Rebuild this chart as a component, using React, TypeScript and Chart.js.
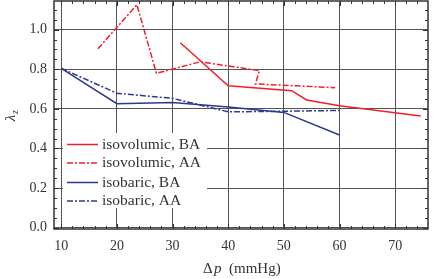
import React, { useEffect, useRef } from "react";
import { Chart, registerables } from "chart.js";

Chart.register(...registerables);

// ---- data ----
const isoVolBA_x = [31.4, 40, 51.4, 54.1, 60, 74.6];
const isoVolBA_y = [0.934, 0.717, 0.692, 0.645, 0.616, 0.564];

const isoVolAA_x = [16.6, 23.6, 27.1, 35, 45.6, 44.9, 59.2];
const isoVolAA_y = [0.904, 1.126, 0.78, 0.838, 0.793, 0.726, 0.707];

const isoBarBA_x = [10, 20, 30, 40, 50, 60];
const isoBarBA_y = [0.805, 0.626, 0.632, 0.61, 0.582, 0.468];

const isoBarAA_x = [10, 20, 30, 40, 50, 60];
const isoBarAA_y = [0.805, 0.679, 0.653, 0.585, 0.588, 0.592];

const seriesLabels = ["isovolumic, BA", "isovolumic, AA", "isobaric, BA", "isobaric, AA"];
const xTicks = [10, 20, 30, 40, 50, 60, 70];
const yTicks = [0.0, 0.2, 0.4, 0.6, 0.8, 1.0];

const RED = "rgb(238,32,42)";
const BLUE = "rgb(44,56,145)";
const DASHDOT = [6, 2, 2, 2];
const FONT = "'Liberation Serif', 'Times New Roman', serif";
const TEXT = "#333";

const zip = (xs: number[], ys: number[]) => xs.map((x, i) => ({ x, y: ys[i] }));

const decorPlugin = {
  id: "decor",
  afterDatasetsDraw(chart: any) {
    const { ctx, chartArea: a, scales } = chart;
    const xs = scales.x;
    const ys = scales.y;
    ctx.save();
    // legend
    ctx.fillStyle = "#fff";
    ctx.fillRect(63, 133, 144, 75);
    const rows = [144.5, 163, 182.5, 201];
    const styles = [
      { c: RED, d: [] },
      { c: RED, d: DASHDOT },
      { c: BLUE, d: [] },
      { c: BLUE, d: DASHDOT },
    ];
    rows.forEach((ry, i) => {
      ctx.strokeStyle = styles[i].c;
      ctx.lineWidth = 1.5;
      ctx.setLineDash(styles[i].d);
      ctx.beginPath();
      ctx.moveTo(67, ry);
      ctx.lineTo(98, ry);
      ctx.stroke();
      ctx.setLineDash([]);
      ctx.fillStyle = TEXT;
      ctx.font = `15.5px ${FONT}`;
      ctx.textBaseline = "middle";
      ctx.textAlign = "left";
      ctx.fillText(seriesLabels[i], 102, ry);
    });
    // minor ticks
    ctx.strokeStyle = "#333";
    ctx.lineWidth = 1;
    ctx.beginPath();
    for (let v = 10; v <= 76; v += 2) {
      const px = Math.round(xs.getPixelForValue(v)) + 0.5;
      if (px < a.left || px > a.right) continue;
      const len = v % 10 === 0 ? 5 : 3;
      ctx.moveTo(px, a.bottom);
      ctx.lineTo(px, a.bottom - len);
      ctx.moveTo(px, a.top);
      ctx.lineTo(px, a.top + len);
    }
    for (let k = 0; k <= 22; k++) {
      const v = k * 0.05;
      const py = Math.round(ys.getPixelForValue(v)) + 0.5;
      if (py < a.top || py > a.bottom) continue;
      const len = k % 4 === 0 ? 5 : 3;
      ctx.moveTo(a.left, py);
      ctx.lineTo(a.left + len, py);
      ctx.moveTo(a.right, py);
      ctx.lineTo(a.right - len, py);
    }
    ctx.stroke();
    // frame
    ctx.strokeStyle = "#333";
    ctx.lineWidth = 1.5;
    ctx.strokeRect(a.left, a.top, a.right - a.left, a.bottom - a.top);
    ctx.restore();
  },
  afterDraw(chart: any) {
    const { ctx } = chart;
    ctx.save();
    ctx.fillStyle = TEXT;
    ctx.textBaseline = "alphabetic";
    // x title
    ctx.font = `15px ${FONT}`;
    ctx.textAlign = "left";
    ctx.fillText("Δ", 203, 273);
    ctx.font = `italic 15px ${FONT}`;
    ctx.fillText("p", 214, 273);
    ctx.font = `15px ${FONT}`;
    ctx.fillText("(mmHg)", 229, 273);
    // y title
    ctx.translate(15, 118);
    ctx.rotate(-Math.PI / 2);
    ctx.font = `italic 15px ${FONT}`;
    ctx.textAlign = "center";
    ctx.fillText("λ", 0, 0);
    ctx.font = `italic 10px ${FONT}`;
    ctx.textAlign = "left";
    ctx.fillText("z", 4, 3);
    ctx.restore();
  },
};

export default function App() {
  const ref = useRef<HTMLCanvasElement | null>(null);
  useEffect(() => {
    document.body.style.margin = "0";
    const canvas = ref.current!;
    const mk = (label: string, xs: number[], ys: number[], color: string, dash: number[]) => ({
      label,
      data: zip(xs, ys),
      borderColor: color,
      backgroundColor: color,
      borderWidth: 1.5,
      borderDash: dash,
      pointRadius: 0,
      tension: 0,
      fill: false,
    });
    const chart = new Chart(canvas, {
      type: "line",
      data: {
        datasets: [
          mk(seriesLabels[0], isoVolBA_x, isoVolBA_y, RED, []),
          mk(seriesLabels[1], isoVolAA_x, isoVolAA_y, RED, DASHDOT),
          mk(seriesLabels[2], isoBarBA_x, isoBarBA_y, BLUE, []),
          mk(seriesLabels[3], isoBarAA_x, isoBarAA_y, BLUE, DASHDOT),
        ] as any,
      },
      options: {
        animation: false,
        responsive: false,
        maintainAspectRatio: false,
        layout: { padding: { left: 0, top: 1, right: 10, bottom: 0 } },
        plugins: { legend: { display: false }, tooltip: { enabled: false } },
        scales: {
          x: {
            type: "linear",
            min: 8.7,
            max: 75.9,
            afterBuildTicks: (s: any) => {
              s.ticks = xTicks.map((v) => ({ value: v }));
            },
            afterFit: (s: any) => {
              s.height = 50;
              s.paddingLeft = 0;
              s.paddingRight = 0;
              s.paddingTop = 0;
              s.paddingBottom = 0;
            },
            grid: { color: "#555", lineWidth: 1, drawTicks: false },
            border: { display: false },
            ticks: { padding: 9, color: TEXT, font: { family: FONT, size: 14 }, maxRotation: 0 },
          },
          y: {
            type: "linear",
            min: -0.007,
            max: 1.145,
            afterBuildTicks: (s: any) => {
              s.ticks = yTicks.map((v) => ({ value: v }));
            },
            afterFit: (s: any) => {
              s.width = 54;
              s.paddingLeft = 0;
              s.paddingRight = 0;
              s.paddingTop = 0;
              s.paddingBottom = 0;
            },
            grid: { color: "#555", lineWidth: 1, drawTicks: false },
            border: { display: false },
            ticks: {
              padding: 7,
              color: TEXT,
              font: { family: FONT, size: 14 },
              callback: (v: any) => Number(v).toFixed(1),
            },
          },
        },
      },
      plugins: [decorPlugin],
    });
    return () => chart.destroy();
  }, []);
  return (
    <div style={{ width: 438, height: 279 }}>
      <canvas ref={ref} width={438} height={279} style={{ display: "block" }} />
    </div>
  );
}
